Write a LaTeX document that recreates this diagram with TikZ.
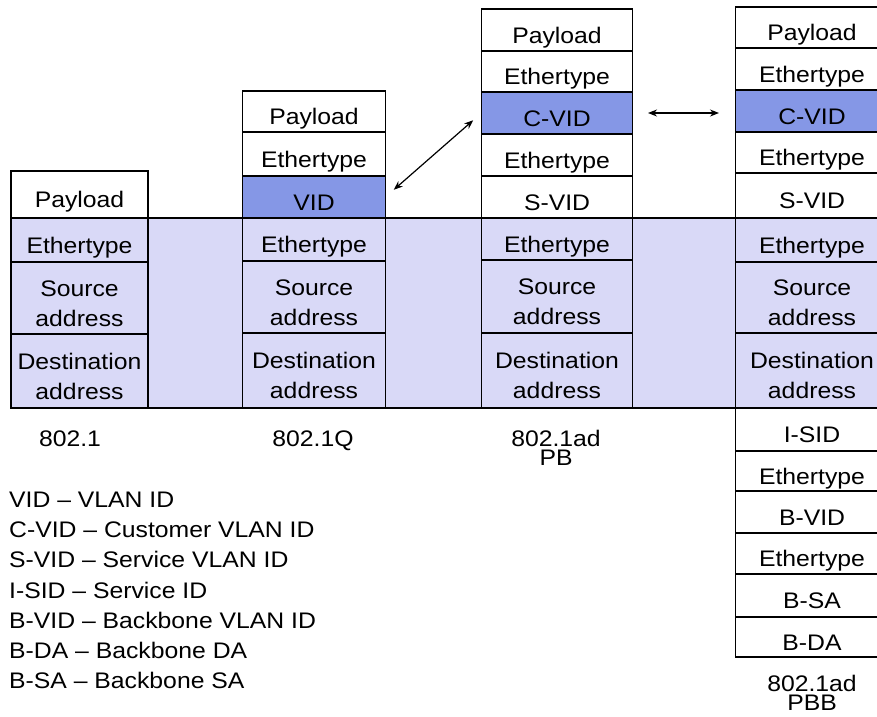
\documentclass[tikz,border=0pt]{standalone}
\usepackage{fontspec}
\setmainfont{Liberation Sans}[FakeStretch=1.1]
\usetikzlibrary{arrows.meta,calc}
\definecolor{bandcol}{RGB}{217,217,247}
\definecolor{vidblue}{RGB}{133,151,230}
\newcommand\fcell[7]{\node[cell,#6,minimum width={(#3-#2)*1pt},minimum height={(#5-#4)*1pt},label={[celltext]center:\strut #7}] (#1) at ({(#2+#3)/2},{(#4+#5)/2}) {};}
\begin{document}
\begin{tikzpicture}[x=1pt,y=-1pt,
  cell/.style={draw=black,line width=1.2pt,inner sep=0pt,outer sep=0pt},
  wcell/.style={fill=white},
  bcell/.style={fill=bandcol},
  vcell/.style={fill=vidblue},
  celltext/.style={font=\fontsize{22.5}{30}\selectfont,align=center,inner sep=0pt,yshift=-7pt},
  collab/.style={font=\fontsize{22.5}{18.3}\selectfont,align=center,inner sep=0pt,anchor=base},
  legend/.style={font=\fontsize{22.5}{30}\selectfont,inner sep=0pt,anchor=base west},
  dbl/.style={{Stealth[length=9pt,width=7pt]}-{Stealth[length=9pt,width=7pt]},line width=1.2pt}]
\useasboundingbox (0,0) rectangle (877,716);
\fill[bandcol] (11,218) rectangle (890,408);
% 802.1
\fcell{a1}{11}{148}{171}{218}{wcell}{Payload}
\fcell{a2}{11}{148}{218}{262}{bcell}{Ethertype}
\fcell{a3}{11}{148}{262}{334}{bcell}{Source\\\strut address}
\fcell{a4}{11}{148}{334}{408}{bcell}{Destination\\\strut address}
% 802.1Q
\fcell{b1}{242.5}{385.5}{91}{132}{wcell}{Payload}
\fcell{b2}{242.5}{385.5}{132}{176}{wcell}{Ethertype}
\fcell{b3}{242.5}{385.5}{176}{218}{vcell}{VID}
\fcell{b4}{242.5}{385.5}{218}{261}{bcell}{Ethertype}
\fcell{b5}{242.5}{385.5}{261}{333}{bcell}{Source\\\strut address}
\fcell{b6}{242.5}{385.5}{333}{408}{bcell}{Destination\\\strut address}
% 802.1ad PB
\fcell{c1}{481.5}{632.5}{9}{51}{wcell}{Payload}
\fcell{c2}{481.5}{632.5}{51}{92}{wcell}{Ethertype}
\fcell{c3}{481.5}{632.5}{92}{134}{vcell}{C-VID}
\fcell{c4}{481.5}{632.5}{134}{176}{wcell}{Ethertype}
\fcell{c5}{481.5}{632.5}{176}{218}{wcell}{S-VID}
\fcell{c6}{481.5}{632.5}{218}{260}{bcell}{Ethertype}
\fcell{c7}{481.5}{632.5}{260}{333}{bcell}{Source\\\strut address}
\fcell{c8}{481.5}{632.5}{333}{408}{bcell}{Destination\\\strut address}
% 802.1ad PBB
\fcell{d1}{735.5}{888.5}{7}{48}{wcell}{Payload}
\fcell{d2}{735.5}{888.5}{48}{90}{wcell}{Ethertype}
\fcell{d3}{735.5}{888.5}{90}{132}{vcell}{C-VID}
\fcell{d4}{735.5}{888.5}{132}{173}{wcell}{Ethertype}
\fcell{d5}{735.5}{888.5}{173}{218}{wcell}{S-VID}
\fcell{d6}{735.5}{888.5}{218}{262}{bcell}{Ethertype}
\fcell{d7}{735.5}{888.5}{262}{333}{bcell}{Source\\\strut address}
\fcell{d8}{735.5}{888.5}{333}{408}{bcell}{Destination\\\strut address}
\fcell{d9}{735.5}{888.5}{408}{451}{wcell}{I-SID}
\fcell{d10}{735.5}{888.5}{451}{491}{wcell}{Ethertype}
\fcell{d11}{735.5}{888.5}{491}{533}{wcell}{B-VID}
\fcell{d12}{735.5}{888.5}{533}{574}{wcell}{Ethertype}
\fcell{d13}{735.5}{888.5}{574}{617}{wcell}{B-SA}
\fcell{d14}{735.5}{888.5}{617}{657}{wcell}{B-DA}
% band edges
\draw[line width=2pt] (11,218) -- (890,218);
\draw[line width=2pt] (11,408) -- (890,408);
% arrows
\draw[dbl,shorten <=11pt,shorten >=11pt] (b3.east) -- (c3.west);
\draw[dbl,shorten <=15.5pt,shorten >=16.5pt] (c3.east) -- (c3.east -| d3.west);
% column labels
\node[collab] (l1) at (70,446.7) {802.1};
\node[collab] (l2) at (313,446.5) {802.1Q};
\node[collab] (l3) at (556,465) {802.1ad\\PB};
\node[collab] (l4) at (812,710) {802.1ad\\PBB};
% legend
\node[legend] (g1) at (9,507.7) {VID – VLAN ID};
\node[legend] (g2) at (9,537.8) {C-VID – Customer VLAN ID};
\node[legend] (g3) at (9,567.9) {S-VID – Service VLAN ID};
\node[legend] (g4) at (9,598) {I-SID – Service ID};
\node[legend] (g5) at (9,628.1) {B-VID – Backbone VLAN ID};
\node[legend] (g6) at (9,658.2) {B-DA – Backbone DA};
\node[legend] (g7) at (9,688.3) {B-SA – Backbone SA};
\end{tikzpicture}
\end{document}
